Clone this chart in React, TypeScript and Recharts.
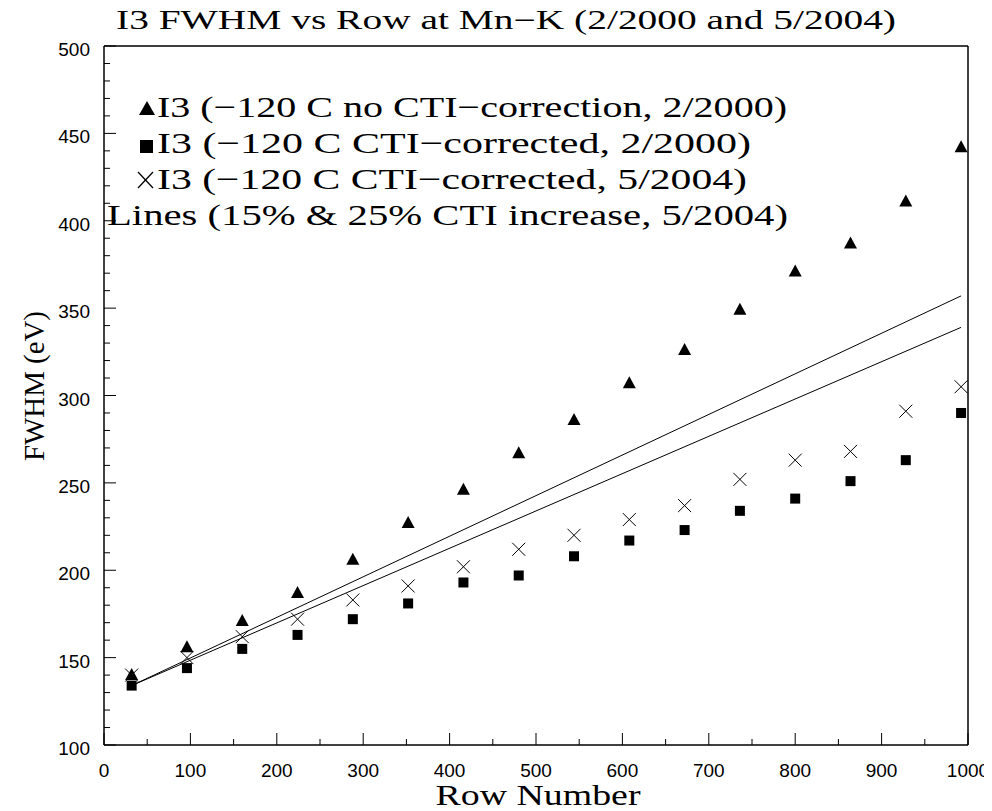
import React from 'react';
import { ScatterChart, Scatter, XAxis, YAxis } from 'recharts';

const rows = [32, 96, 160, 224, 288, 352, 416, 480, 544, 608, 672, 736, 800, 864, 928, 992];
const noCti2000 = [140, 156, 171, 187, 206, 227, 246, 267, 286, 307, 326, 349, 371, 387, 411, 442];
const cti2000 = [134, 144, 155, 163, 172, 181, 193, 197, 208, 217, 223, 234, 241, 251, 263, 290];
const cti2004 = [140, 150, 162, 172, 183, 191, 202, 212, 220, 229, 237, 252, 263, 268, 291, 305];
const lineRows = [32, 992];
const line15 = [134, 339];
const line25 = [134, 357];

const xTicks = [0, 50, 100, 150, 200, 250, 300, 350, 400, 450, 500, 550, 600, 650, 700, 750, 800, 850, 900, 950, 1000];
const yTicks = [100, 110, 120, 130, 140, 150, 160, 170, 180, 190, 200, 210, 220, 230, 240, 250, 260, 270, 280, 290, 300,
  310, 320, 330, 340, 350, 360, 370, 380, 390, 400, 410, 420, 430, 440, 450, 460, 470, 480, 490, 500];

const title = 'I3 FWHM vs Row at Mn\u2212K (2/2000 and 5/2004)';
const legendRows = [
  'I3 (\u2212120 C no CTI\u2212correction, 2/2000)',
  'I3 (\u2212120 C CTI\u2212corrected, 2/2000)',
  'I3 (\u2212120 C CTI\u2212corrected, 5/2004)',
  'Lines (15% & 25% CTI increase, 5/2004)',
];

const toPts = (xs: number[], ys: number[]) => xs.map((x, i) => ({ x, y: ys[i] }));
const dNo = toPts(rows, noCti2000);
const dC0 = toPts(rows, cti2000);
const dC4 = toPts(rows, cti2004);
const dL15 = toPts(lineRows, line15);
const dL25 = toPts(lineRows, line25);

const SERIF = '"Liberation Serif", "DejaVu Serif", serif';
const SANS = '"Liberation Sans", Arial, sans-serif';

const Tri = (p: any) => {
  const { cx, cy } = p;
  if (cx == null || cy == null) return <g />;
  return <path d={`M${cx},${cy - 7} L${cx + 6.5},${cy + 5} L${cx - 6.5},${cy + 5} Z`} fill="#000" />;
};
const Sq = (p: any) => {
  const { cx, cy } = p;
  if (cx == null || cy == null) return <g />;
  return <rect x={cx - 5} y={cy - 5} width={10} height={10} fill="#000" />;
};
const Cross = (p: any) => {
  const { cx, cy } = p;
  if (cx == null || cy == null) return <g />;
  const r = 6.5;
  return (
    <g stroke="#000" strokeWidth={1}>
      <line x1={cx - r} y1={cy - r} x2={cx + r} y2={cy + r} />
      <line x1={cx - r} y1={cy + r} x2={cx + r} y2={cy - r} />
    </g>
  );
};
const NoShape = () => <g />;

const LeftTick = (p: any) => {
  const { x, y, payload } = p;
  const v = payload.value;
  const major = v % 50 === 0;
  return (
    <g>
      <line x1={x} x2={x + (major ? 12 : 6)} y1={y} y2={y} stroke="#000" strokeWidth={1} />
      {major && (
        <text x={x - 14} y={y + 10} textAnchor="end" fontFamily={SANS} fontSize={19} fill="#000">
          {v}
        </text>
      )}
    </g>
  );
};
const RightTick = (p: any) => {
  const { x, y, payload } = p;
  const major = payload.value % 50 === 0;
  return <line x1={x} x2={x - (major ? 12 : 6)} y1={y} y2={y} stroke="#000" strokeWidth={1} />;
};
const BottomTick = (p: any) => {
  const { x, y, payload } = p;
  const v = payload.value;
  const major = v % 100 === 0;
  return (
    <g>
      <line x1={x} x2={x} y1={y} y2={y - (major ? 12 : 6)} stroke="#000" strokeWidth={1} />
      {major && (
        <text x={x} y={y + 32} textAnchor="middle" fontFamily={SANS} fontSize={19} fill="#000">
          {v}
        </text>
      )}
    </g>
  );
};
const TopTick = (p: any) => {
  const { x, y, payload } = p;
  const major = payload.value % 100 === 0;
  return <line x1={x} x2={x} y1={y} y2={y + (major ? 12 : 6)} stroke="#000" strokeWidth={1} />;
};

const axisLine = { stroke: '#000', strokeWidth: 1.5 };

export default function App() {
  return (
    <div style={{ position: 'relative', width: 984, height: 803 }}>
      <ScatterChart width={984} height={795} margin={{ top: 37, right: 23, bottom: 18, left: 36 }}>
        <XAxis
          dataKey="x"
          type="number"
          domain={[0, 1000]}
          ticks={xTicks}
          interval={0}
          height={40}
          tickSize={0}
          tickMargin={0}
          tickLine={false}
          axisLine={axisLine}
          tick={<BottomTick />}
        />
        <XAxis
          xAxisId="top"
          orientation="top"
          dataKey="x"
          type="number"
          domain={[0, 1000]}
          ticks={xTicks}
          interval={0}
          height={1}
          tickSize={0}
          tickMargin={0}
          tickLine={false}
          axisLine={axisLine}
          tick={<TopTick />}
        />
        <YAxis
          dataKey="y"
          type="number"
          domain={[100, 500]}
          ticks={yTicks}
          interval={0}
          width={60}
          tickSize={0}
          tickMargin={0}
          tickLine={false}
          axisLine={axisLine}
          tick={<LeftTick />}
        />
        <YAxis
          yAxisId="right"
          orientation="right"
          dataKey="y"
          type="number"
          domain={[100, 500]}
          ticks={yTicks}
          interval={0}
          width={1}
          tickSize={0}
          tickMargin={0}
          tickLine={false}
          axisLine={axisLine}
          tick={<RightTick />}
        />
        <Scatter data={dL25} line={{ stroke: '#000', strokeWidth: 1 }} shape={NoShape} isAnimationActive={false} />
        <Scatter data={dL15} line={{ stroke: '#000', strokeWidth: 1 }} shape={NoShape} isAnimationActive={false} />
        <Scatter data={dNo} shape={Tri} isAnimationActive={false} />
        <Scatter data={dC0} shape={Sq} isAnimationActive={false} />
        <Scatter data={dC4} shape={Cross} isAnimationActive={false} />
      </ScatterChart>
      <svg
        width={984}
        height={803}
        style={{ position: 'absolute', left: 0, top: 0, pointerEvents: 'none' }}
      >
        <text x={108} y={21} fontFamily={SERIF} fontSize={27} textLength={780} lengthAdjust="spacingAndGlyphs" fill="#000">
          {title}
        </text>
        <path d="M139,93 L147,107 L131,107 Z" fill="#000" />
        <rect x={132} y={132} width={13} height={13} fill="#000" />
        <g stroke="#000" strokeWidth={1.2}>
          <line x1={130} y1={164} x2={145} y2={180} />
          <line x1={130} y1={180} x2={145} y2={164} />
        </g>
        <text x={149} y={109} fontFamily={SERIF} fontSize={30} textLength={630} lengthAdjust="spacingAndGlyphs" fill="#000">
          {legendRows[0]}
        </text>
        <text x={149} y={145} fontFamily={SERIF} fontSize={30} textLength={594} lengthAdjust="spacingAndGlyphs" fill="#000">
          {legendRows[1]}
        </text>
        <text x={149} y={181} fontFamily={SERIF} fontSize={30} textLength={590} lengthAdjust="spacingAndGlyphs" fill="#000">
          {legendRows[2]}
        </text>
        <text x={99} y={217} fontFamily={SERIF} fontSize={30} textLength={681} lengthAdjust="spacingAndGlyphs" fill="#000">
          {legendRows[3]}
        </text>
        <text x={530} y={797} textAnchor="middle" fontFamily={SERIF} fontSize={29} textLength={205} lengthAdjust="spacingAndGlyphs" fill="#000">
          Row Number
        </text>
        <text
          x={25}
          y={378}
          textAnchor="middle"
          dominantBaseline="central"
          transform="rotate(-90 25 378)"
          fontFamily={SERIF}
          fontSize={30}
          textLength={150}
          lengthAdjust="spacingAndGlyphs"
          fill="#000"
        >
          FWHM (eV)
        </text>
      </svg>
    </div>
  );
}
